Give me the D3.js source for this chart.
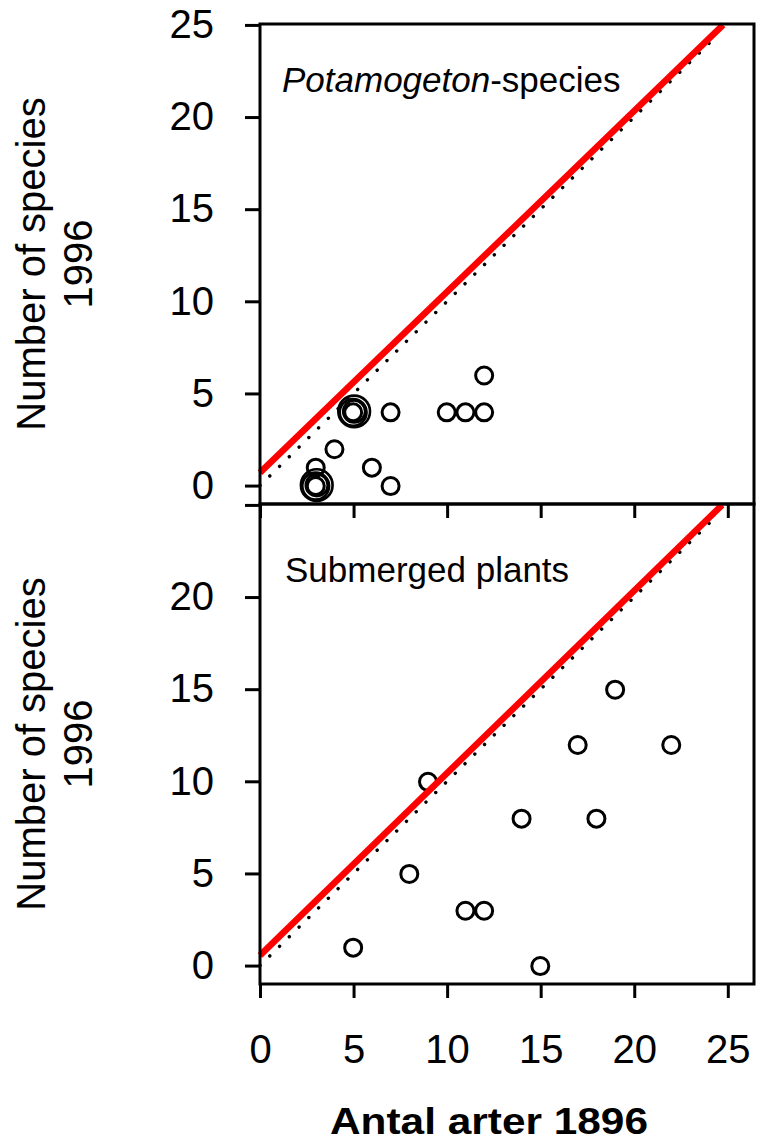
<!DOCTYPE html>
<html><head><meta charset="utf-8">
<script src="https://cdn.jsdelivr.net/npm/d3@7"></script>
<style>
body{margin:0;background:#fff}
svg{display:block}
text{font-family:"Liberation Sans",Arial,Helvetica,sans-serif;fill:#000}
</style>
</head><body>
<svg id="c" width="758" height="1145"></svg>
<script>
// ---- data ----
const xTicks = [0, 5, 10, 15, 20, 25];
const yTicksTop = [0, 5, 10, 15, 20, 25];
const yTicksBottom = [0, 5, 10, 15, 20, 25];
const yLabelsBottom = [0, 5, 10, 15, 20];

// Potamogeton-species (x = 1896, y = 1996, n = stacked observations)
const potX = [3, 3, 4, 5, 6, 7, 7, 10, 11, 12, 12];
const potY = [0, 1, 2, 4, 1, 4, 0, 4, 4, 4, 6];
const potN = [4, 1, 1, 4, 1, 1, 1, 1, 1, 1, 1];

// Submerged plants
const subX = [5, 8, 9, 11, 12, 14, 15, 17, 18, 19, 22];
const subY = [1, 5, 10, 3, 3, 8, 0, 12, 8, 15, 12];

// red reference lines and 1:1 line
const redTopX = [0, 24.75], redTopY = [0.7, 25];
const redBotX = [0, 24.7], redBotY = [0.55, 25];
const oneToOne = [0, 24.5];

const panelTitles = ["Potamogeton", "Submerged plants"];
const yTitle = ["Number of species", "1996"];
const xTitle = "Antal arter 1896";

// ---- layout ----
const svg = d3.select("#c");
const L = 260, R = 754;
const x = d3.scaleLinear().domain([0, 26.4]).range([L, R]);
const yTop = d3.scaleLinear().domain([-1, 25.05]).range([504, 24]);
const yBot = d3.scaleLinear().domain([-1, 25.05]).range([984, 504]);

const black = "#000";

function panel(y, xs, ys, ns, rx, ry, showXLabels, yTicks, yLabels) {
  const g = svg.append("g");
  const pts = xs.map((v, i) => ({x: v, y: ys[i], n: ns ? ns[i] : 1}));
  pts.forEach(p => {
    for (let k = 0; k < p.n; k++) {
      g.append("circle")
        .attr("cx", x(p.x) + (k % 2 ? 0.6 : -0.4)).attr("cy", y(p.y) + (k % 2 ? -0.4 : 0.5))
        .attr("r", 8.5 + k * 2.45)
        .attr("fill", "none").attr("stroke", black).attr("stroke-width", k ? 2.6 : 3);
    }
  });
  // 1:1 dotted line
  g.append("line")
    .attr("x1", x(oneToOne[0])).attr("y1", y(oneToOne[0]))
    .attr("x2", x(oneToOne[1])).attr("y2", y(oneToOne[1]))
    .attr("stroke", black).attr("stroke-width", 3.4)
    .attr("stroke-linecap", "round").attr("stroke-dasharray", "0.1 13.6");
  // red line
  g.append("line")
    .attr("x1", x(rx[0])).attr("y1", y(ry[0]))
    .attr("x2", x(rx[1])).attr("y2", y(ry[1]))
    .attr("stroke", "#ff0000").attr("stroke-width", 6.5);
  // frame
  const [y0, y1] = y.range();
  g.append("rect").attr("x", L).attr("y", y1).attr("width", R - L).attr("height", y0 - y1)
    .attr("fill", "none").attr("stroke", black).attr("stroke-width", 3);
  // y axis
  const ya = svg.append("g").attr("transform", `translate(${L},0)`)
    .call(d3.axisLeft(y).tickValues(yTicks).tickSize(15).tickPadding(31)
      .tickFormat(d => yLabels.includes(d) ? d : ""));
  // x axis
  const xa = svg.append("g").attr("transform", `translate(0,${y0})`)
    .call(d3.axisBottom(x).tickValues(xTicks).tickSize(14).tickPadding(37)
      .tickFormat(d => showXLabels ? d : ""));
  [ya, xa].forEach(a => {
    a.select(".domain").remove();
    a.selectAll(".tick line").attr("stroke", black).attr("stroke-width", 3);
    a.selectAll(".tick text").style("font-size", "40px")
      .style("font-family", '"Liberation Sans",Arial,Helvetica,sans-serif').attr("fill", black);
  });
  return g;
}

panel(yTop, potX, potY, potN, redTopX, redTopY, false, yTicksTop, yTicksTop);
panel(yBot, subX, subY, null, redBotX, redBotY, true, yTicksBottom, yLabelsBottom);

// panel titles
const t1 = svg.append("text").attr("x", 282).attr("y", 92).style("font-size", "35px");
t1.append("tspan").style("font-style", "italic").text(panelTitles[0]);
t1.append("tspan").text("-species");
svg.append("text").attr("x", 285).attr("y", 582).style("font-size", "35px").text(panelTitles[1]);

// y titles
[264, 744].forEach(cy => {
  const t = svg.append("text").attr("transform", `translate(45,${cy}) rotate(-90)`)
    .attr("text-anchor", "middle").style("font-size", "40px");
  t.append("tspan").attr("x", 0).attr("y", 0).text(yTitle[0]);
  t.append("tspan").attr("x", 0).attr("y", 47).text(yTitle[1]);
});

// x title
svg.append("text").attr("x", 489).attr("y", 1134).attr("text-anchor", "middle")
  .attr("textLength", 318).attr("lengthAdjust", "spacingAndGlyphs")
  .style("font-size", "36px").style("font-weight", "bold").text(xTitle);
</script>
</body></html>
